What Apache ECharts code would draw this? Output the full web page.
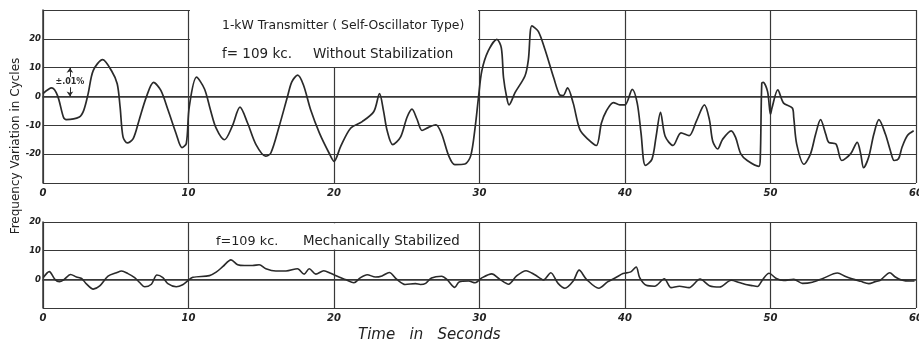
<!DOCTYPE html>
<html><head><meta charset="utf-8">
<script src="https://cdn.jsdelivr.net/npm/echarts@6/dist/echarts.min.js"></script>
<style>html,body{margin:0;padding:0;background:#fff}#c{width:919px;height:345px}</style>
</head><body><div id="c"></div>
<script>
// ---- data ----
const xTicks = [0, 10, 20, 30, 40, 50, 60];
const topYTicks = [-20, -10, 0, 10, 20];
const bottomYTicks = [0, 10, 20];

const timeTop = [0,0.6,1.0,1.4,1.6,2.5,2.8,3.1,3.45,4.1,4.7,5.1,5.3,5.5,5.8,6.2,6.6,7.1,7.6,8.1,8.6,9.15,9.55,9.85,10.05,10.55,11.1,11.5,11.9,12.47,13.0,13.54,14.06,14.64,15.3,15.66,16.23,16.8,17.1,17.5,17.9,18.4,19.0,19.66,20.0,20.46,21.14,21.94,22.74,23.13,23.4,23.65,24.04,24.57,25.02,25.36,25.7,26.05,26.5,27.0,27.4,27.88,28.3,29.0,29.4,29.7,29.93,30.16,30.6,31.2,31.5,31.65,31.87,32.03,32.45,33.13,33.36,33.6,34.04,34.5,35.1,35.5,35.75,36.05,36.44,36.9,37.47,38.03,38.38,38.7,39.2,39.64,40.0,40.5,40.84,41.1,41.4,41.85,42.14,42.44,42.76,43.3,43.85,44.4,44.9,45.46,45.8,46.03,46.37,46.7,47.3,47.6,47.96,48.4,49.2,49.3,49.4,49.5,49.8,50.0,50.1,50.5,50.9,51.5,51.6,51.8,52.3,52.75,53.1,53.44,53.8,54.0,54.5,54.9,55.5,55.96,56.2,56.4,56.75,57.1,57.45,57.9,58.24,58.5,58.8,59.04,59.4,59.84];
const freqTop = [1,3.0,0.3,-7.1,-8.0,-7.1,-4.8,0.9,9.0,12.8,9.0,4.4,-3.7,-14,-16.1,-14.6,-8.3,-0.2,4.9,2.1,-4.8,-12.9,-17.7,-16.3,-3.7,6.7,2.6,-4.5,-11,-15,-10.4,-3.7,-9.2,-16.7,-20.7,-19.6,-10.4,-0.1,5.1,7.4,4,-4.7,-12.7,-19.6,-22.5,-17.3,-11,-8.7,-5.2,1.0,-4.9,-11.8,-16.7,-14.1,-7.2,-4.4,-7.8,-11.8,-10.7,-9.8,-13,-20.5,-23.6,-23.4,-20.5,-10.7,-0.3,8.9,15.8,19.8,16.9,6.6,-0.3,-2.9,1.4,7.2,12.8,24.5,22.6,16.3,6.5,0.6,0.3,3.0,-2.3,-11.5,-14.9,-17,-9.2,-5.2,-2.1,-2.9,-2.9,2.5,-2.3,-12.6,-23.9,-21.8,-13.8,-5.5,-13.8,-17,-12.6,-13.6,-8.6,-2.9,-8.0,-15.5,-18.2,-14.9,-11.9,-14.2,-19.9,-22.2,-24.2,-21,4.6,4.9,1.7,-6.2,-4,2.3,-2.3,-4,-7.4,-16.5,-23.5,-19.9,-13.1,-8,-13.1,-15.9,-16.5,-22.2,-19.9,-15.9,-19.9,-24.7,-21,-13.1,-8,-13.1,-18.8,-22.2,-21.6,-17.6,-13.6,-11.9];

const timeBottom = [0.02,0.43,0.82,1.12,1.4,1.9,2.3,2.65,3.0,3.45,3.9,4.47,5.05,5.4,5.84,6.3,6.64,6.99,7.45,7.83,8.24,8.58,9.16,9.6,9.95,10.3,11.44,11.9,12.35,12.92,13.38,13.84,14.4,14.86,15.32,16.0,16.7,17.49,17.95,18.3,18.75,19.3,19.77,20.34,20.8,21.37,21.8,22.28,22.85,23.3,23.8,24.3,24.9,25.6,25.94,26.3,26.7,27.4,27.76,28.3,28.6,29.25,29.7,30.16,30.84,31.4,32.0,32.55,33.2,33.8,34.4,34.9,35.4,35.87,36.44,36.85,37.35,38.2,38.8,39.4,39.86,40.4,40.77,41.0,41.46,42.03,42.7,43.17,43.74,44.4,45.16,45.8,46.5,47.3,47.85,48.3,48.65,49.1,49.45,49.9,50.4,50.9,51.6,52.2,52.88,53.6,54.6,55.16,55.6,56.2,56.76,57.2,57.55,58.2,58.55,59.0,59.6,59.9];
const freqBottom = [0.6,2.7,0,-0.8,-0.3,1.7,0.8,0.3,-1.7,-3.4,-2.3,1.1,2.3,2.9,2.0,0.6,-1.1,-2.6,-1.7,1.5,0.6,-1.5,-2.6,-1.9,-0.5,0.7,1.3,2.5,4.4,6.8,5.1,4.8,4.8,5.1,3.7,2.9,2.9,3.7,1.8,3.7,1.8,3.0,2.1,0.8,-0.1,-1.2,0.5,1.6,0.8,1.2,2.4,0.1,-1.8,-1.5,-1.8,-1.4,0.5,1.1,0,-2.8,-0.9,-0.6,-1.2,0.5,1.9,0,-1.7,1.2,3.0,1.6,-0.2,2.3,-1.4,-3.1,-0.6,3.2,0.0,-3.1,-0.9,0.7,2.0,2.6,4.3,0.7,-2.1,-2.4,0.2,-2.9,-2.4,-2.9,0.1,-2.2,-2.7,-0.3,-1.1,-1.8,-2.1,-2.5,-0.2,2.1,0.3,-0.4,0,-1.4,-1.0,0.3,2.2,1.0,0.2,-0.7,-1.5,-0.8,-0.3,2.3,0.9,-0.2,-0.6,-0.6];

const scaleMarkTime = 1.85;
const scaleMarkRange = [0, 10];
const scaleMarkText = '±.01%';

const topTitle = '1-kW Transmitter ( Self-Oscillator Type)';
const topFreq = 'f= 109 kc.';
const topSub = 'Without Stabilization';
const bottomFreq = 'f=109 kc.';
const bottomSub = 'Mechanically Stabilized';
const xName = 'Time   in   Seconds';
const yName = 'Frequency Variation in Cycles';

// ---- chart ----
const ink = '#2a2a2a';
const gridInk = '#383838';
const zip = (a, b) => a.map((t, i) => [t, b[i]]);
const chart = echarts.init(document.getElementById('c'), null, {renderer: 'canvas'});

function xAxis(gi) {
  return {
    type: 'value', gridIndex: gi, min: 0, max: 60, interval: 10,
    axisLine: {show: true, lineStyle: {color: gridInk, width: 1.5}},
    axisTick: {show: false},
    splitLine: {show: true, lineStyle: {color: gridInk, width: 1.2}},
    axisLabel: {
      margin: 5, fontSize: 10, fontStyle: 'italic', fontWeight: 'bold', color: '#222',
      fontFamily: 'DejaVu Sans',
      formatter: v => xTicks.includes(v) ? String(v) : ''
    }
  };
}
function yAxis(gi, min, max, ticks) {
  return {
    type: 'value', gridIndex: gi, min: min, max: max, interval: 10,
    axisLine: {show: true, lineStyle: {color: gridInk, width: 1.5}},
    axisTick: {show: false},
    splitLine: {show: true, lineStyle: {color: gridInk, width: 1.2}},
    axisLabel: {
      margin: 2, fontSize: 8.5, fontStyle: 'italic', fontWeight: 'bold', color: '#222',
      fontFamily: 'DejaVu Sans',
      formatter: v => ticks.includes(v) ? String(v) : ''
    }
  };
}

const T = (x, y, text, font, extra) => Object.assign({
  type: 'text', x: x, y: y, z: 100, zlevel: 1,
  style: {text: text, font: font, fill: '#222', verticalAlign: 'middle'}
}, extra || {});

chart.setOption({
  animation: false,
  backgroundColor: '#fff',
  grid: [
    {left: 43, right: 3, top: 10, height: 173, containLabel: false, outerBoundsMode: 'none'},
    {left: 43, right: 3, top: 222, height: 86, containLabel: false, outerBoundsMode: 'none'}
  ],
  xAxis: [xAxis(0), xAxis(1)],
  yAxis: [yAxis(0, -30, 30, topYTicks), yAxis(1, -10, 20, bottomYTicks)],
  series: [
    {
      type: 'line', xAxisIndex: 0, yAxisIndex: 0, data: zip(timeTop, freqTop),
      showSymbol: false, smooth: 0.3, clip: false,
      lineStyle: {color: ink, width: 1.7},
      markArea: {
        silent: true, itemStyle: {color: '#fff', opacity: 1},
        data: [[{coord: [10.1, 10.25]}, {coord: [29.9, 31]}]]
      },
      markLine: {
        silent: true, symbol: ['none', 'arrow'], symbolSize: 5,
        lineStyle: {color: ink, width: 1, type: 'solid'}, label: {show: false},
        data: [
          [{coord: [scaleMarkTime, scaleMarkRange[1] - 3.2]}, {coord: [scaleMarkTime, scaleMarkRange[1]]}],
          [{coord: [scaleMarkTime, scaleMarkRange[0] + 3.2]}, {coord: [scaleMarkTime, scaleMarkRange[0]]}]
        ]
      },
      markPoint: {
        silent: true, symbol: 'circle', symbolSize: 0,
        label: {show: true, position: 'inside', formatter: scaleMarkText, fontSize: 8, fontWeight: 'bold', color: ink, fontFamily: 'DejaVu Sans'},
        data: [{coord: [scaleMarkTime, (scaleMarkRange[0] + scaleMarkRange[1]) / 2]}]
      }
    },
    {
      type: 'line', xAxisIndex: 1, yAxisIndex: 1, data: zip(timeBottom, freqBottom),
      showSymbol: false, smooth: 0.3, clip: false,
      lineStyle: {color: ink, width: 1.6},
      markArea: {
        silent: true, itemStyle: {color: '#fff', opacity: 1},
        data: [[{coord: [12, 10.4]}, {coord: [28, 19.6]}]]
      }
    }
  ],
  graphic: [
    T(222, 26, topTitle, '12.4px "DejaVu Sans"'),
    T(222, 54, topFreq, '13.5px "DejaVu Sans"'),
    T(313, 54, topSub, '13.5px "DejaVu Sans"'),
    T(216, 242, bottomFreq, '12.8px "DejaVu Sans"'),
    T(303, 242, bottomSub, '13.4px "DejaVu Sans"'),
    T(358, 335, xName, 'italic 15px "DejaVu Sans"'),
    {type: 'text', x: 16, y: 146, z: 100, rotation: Math.PI / 2,
     style: {text: yName, font: '12px "DejaVu Sans"', fill: '#222', align: 'center', verticalAlign: 'middle'}}
  ]
});
</script>
</body></html>
